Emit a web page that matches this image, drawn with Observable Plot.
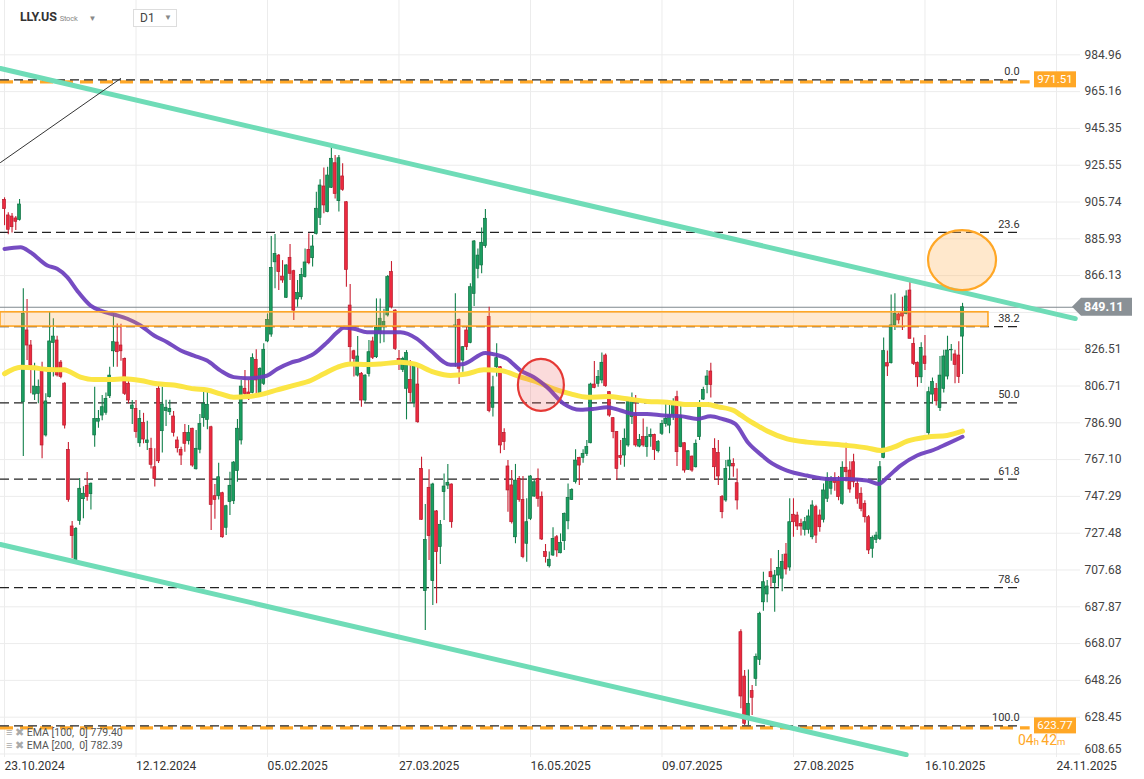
<!DOCTYPE html>
<html><head><meta charset="utf-8">
<script src="https://cdn.jsdelivr.net/npm/d3@7"></script>
<script src="https://cdn.jsdelivr.net/npm/@observablehq/plot@0.6"></script>
<style>
body{margin:0;background:#fff;font-family:Roboto,"Noto Sans",sans-serif;}
#wrap{position:relative;width:1144px;height:779px;overflow:hidden;background:#fff;}
#chart{position:absolute;left:0;top:0;}
.hdr{position:absolute;left:20px;top:9px;font-size:12.5px;font-weight:700;color:#333;letter-spacing:-0.2px;}
.hdr .st{font-size:7.5px;font-weight:400;color:#888;margin-left:3px;}
.hdr .tri{font-size:8px;color:#888;margin-left:11px;font-weight:400;}
.d1{position:absolute;left:133px;top:9px;width:42px;height:16px;border:1px solid #ddd;background:#fff;font-size:12px;color:#444;}
.d1 span{position:absolute;left:6px;top:1px;}
.d1 i{position:absolute;left:30px;top:3px;font-style:normal;font-size:8px;color:#888;}
.leg{position:absolute;left:6px;font-size:10.5px;color:#555;white-space:pre;}
.leg b{font-weight:400;color:#aaa;font-size:11px;}
</style></head><body>
<div id="wrap">
<div id="chart"></div>
<div class="hdr">LLY.US<span class="st">Stock</span><span class="tri">▼</span></div>
<div class="d1"><span>D1</span><i>▼</i></div>
<div class="leg" style="top:726px"><b>≡ ✖</b> EMA [100,  0] 779.40</div>
<div class="leg" style="top:739px"><b>≡ ✖</b> EMA [200,  0] 782.39</div>
</div>
<script>
// ---- candle data (bar index 0 = 23.10.2024) ----
const opens=[906.9,898.5,897.9,896.9,896.1,798.0,836.6,828.5,802.1,802.5,815.9,780.1,800.7,829.9,831.2,819.3,808.0,772.3,731.1,712.8,734.0,745.8,753.0,748.5,780.1,787.5,790.8,792.3,801.2,825.4,830.1,828.5,821.3,807.9,794.4,794.4,775.9,786.9,776.0,772.9,763.0,805.2,782.4,793.2,792.6,790.3,777.4,772.3,781.5,777.0,783.7,761.9,772.4,789.4,788.5,784.5,747.4,747.4,749.0,730.4,744.2,744.7,760.9,777.4,805.2,803.2,803.0,820.8,802.5,807.9,830.7,834.4,873.3,876.9,865.6,854.2,875.7,868.5,853.3,854.5,865.3,880.0,875.5,888.6,897.2,914.1,900.3,913.4,926.6,906.2,919.5,905.6,850.0,825.4,812.3,813.3,798.9,813.2,830.7,822.2,834.8,838.4,844.7,868.0,847.3,821.3,815.4,805.2,810.0,797.5,807.5,762.1,696.3,751.9,701.7,739.2,720.0,749.6,753.1,753.7,838.4,842.3,820.4,836.6,829.9,856.3,869.8,871.6,882.0,843.8,795.0,816.8,816.8,781.5,763.4,753.2,725.3,756.7,745.4,721.8,735.2,747.2,756.7,746.9,717.3,709.7,715.5,725.3,716.7,723.2,733.9,745.4,755.0,768.0,768.0,770.2,775.9,807.5,807.9,809.7,823.1,803.4,789.4,781.9,769.1,769.3,774.7,790.0,791.7,774.1,779.2,773.8,779.2,780.4,771.6,781.0,786.3,785.4,790.8,800.7,773.8,775.9,761.6,768.7,763.0,779.2,799.4,807.2,814.5,772.9,770.6,746.9,745.1,763.4,764.8,754.4,674.2,650.3,627.6,642.5,649.1,659.3,690.3,694.5,706.5,700.6,704.7,703.0,716.0,709.0,737.4,737.0,732.5,729.3,729.3,725.3,741.5,737.0,734.7,746.0,751.4,756.7,755.5,743.3,762.7,761.2,765.7,754.0,748.7,743.3,736.1,719.1,723.9,724.4,768.0,819.0,819.0,839.3,845.2,846.4,845.5,858.1,829.4,819.2,811.4,822.6,781.3,802.1,805.2,794.8,805.2,811.8,825.9,823.7,823.1,833.3];
const highs=[908.0,900.0,899.5,898.0,907.1,859.0,853.3,831.2,819.0,810.0,819.5,802.5,846.8,842.9,833.5,820.4,808.5,776.3,733.8,730.5,756.9,752.5,760.1,754.5,806.1,793.5,801.6,803.0,816.8,845.5,840.1,840.0,821.8,809.7,798.9,798.9,793.5,792.0,787.8,778.6,772.9,807.5,806.0,799.0,799.0,793.0,779.2,773.8,786.0,785.4,784.0,782.8,791.4,805.0,805.0,785.0,753.7,765.2,749.5,742.5,760.3,766.1,788.7,809.7,815.0,809.7,824.0,826.2,816.5,829.4,845.5,887.2,888.2,877.5,874.2,872.0,882.9,869.0,863.5,870.0,880.5,888.6,887.7,911.0,917.7,924.1,924.5,935.2,930.8,930.8,926.3,906.0,861.3,826.0,833.3,814.0,812.8,831.2,833.0,853.6,853.6,848.0,866.2,873.7,847.8,825.8,822.2,825.8,820.4,818.6,816.8,768.4,742.9,761.6,754.4,739.7,734.3,759.4,764.5,754.0,856.3,842.8,828.0,838.4,861.7,885.0,880.5,891.8,901.7,849.1,812.0,829.4,817.2,783.7,766.6,761.2,764.5,758.0,758.0,746.0,758.5,756.2,762.1,749.6,721.4,717.3,730.4,726.2,727.1,738.3,754.0,751.4,772.4,768.4,772.4,777.4,808.2,819.9,815.0,824.5,824.0,803.7,789.8,782.2,777.4,783.6,798.9,803.0,801.6,780.6,789.0,784.5,783.6,780.8,777.4,788.1,797.1,797.1,799.8,803.9,795.7,776.2,771.9,769.0,777.7,798.9,806.1,815.0,819.0,778.3,777.4,747.8,766.6,773.8,767.5,762.1,675.5,653.6,653.9,645.5,662.5,685.0,706.5,702.0,713.7,707.4,718.2,716.0,722.0,746.0,746.0,738.8,735.0,736.0,740.0,745.0,742.5,740.0,754.0,760.0,758.0,760.0,758.0,766.0,775.9,766.0,770.0,756.0,752.0,745.0,737.0,726.0,728.0,766.1,832.6,825.5,855.7,856.3,846.0,854.5,858.0,862.6,832.6,819.6,830.0,833.9,806.0,811.0,808.0,822.6,826.0,833.5,829.0,826.0,830.5,851.2];
const lows=[893.0,888.1,889.1,890.4,895.5,768.8,820.4,802.5,798.9,797.1,767.5,779.2,800.2,811.5,811.5,810.6,783.6,744.2,713.8,712.0,731.8,735.2,744.7,740.0,773.8,784.0,788.0,791.0,800.0,816.8,816.8,820.0,801.6,797.1,786.0,778.6,773.8,775.6,772.0,762.1,752.3,765.0,770.6,784.9,790.8,779.2,770.6,763.9,771.1,775.0,763.0,761.5,770.2,784.5,783.1,728.9,735.0,745.4,724.8,726.2,737.0,742.9,754.9,775.0,799.8,798.9,802.5,802.5,802.0,807.0,830.0,833.0,859.0,858.1,862.0,853.8,863.5,842.0,849.1,853.0,864.8,872.0,870.7,888.0,893.1,899.4,900.0,913.0,907.4,900.3,911.5,859.9,818.6,811.5,811.5,795.3,798.0,811.5,821.0,821.5,829.4,830.0,843.8,848.2,825.8,815.0,814.0,788.5,798.0,795.0,786.7,734.4,675.1,712.8,688.6,689.5,710.6,734.3,751.0,730.2,816.8,807.5,814.1,825.8,829.4,849.5,864.4,867.1,880.9,792.3,790.0,811.5,770.2,772.0,738.8,732.5,721.8,744.2,713.7,711.9,734.3,746.9,741.5,723.5,711.4,708.7,714.9,714.6,716.4,718.2,729.3,745.1,754.0,753.1,765.2,768.8,775.6,805.2,806.1,807.9,806.1,789.9,778.3,755.8,764.0,763.0,773.8,786.0,773.8,773.5,773.8,768.4,773.8,766.6,770.7,780.1,784.5,781.0,788.1,763.4,773.5,759.8,761.2,760.3,762.6,777.4,798.9,802.5,800.3,755.8,753.1,735.2,744.2,755.8,757.6,740.0,633.0,624.0,623.8,629.4,645.0,656.3,685.5,690.0,698.4,685.0,698.4,696.0,705.0,707.0,725.3,728.9,726.0,726.0,727.0,724.0,722.0,728.0,733.0,744.0,748.0,750.0,745.0,742.5,755.0,749.0,752.0,743.0,739.0,733.0,716.0,714.0,722.0,723.5,767.5,811.8,818.6,836.6,840.0,836.6,845.0,832.1,817.7,806.1,808.0,815.0,780.0,797.0,796.0,793.0,803.0,810.0,820.0,807.9,808.1,812.9];
const closes=[901.9,890.8,892.2,895.1,904.4,845.5,828.5,817.7,806.4,806.1,774.7,798.4,830.7,833.3,812.4,811.5,785.4,745.4,725.9,729.8,751.4,748.7,746.9,754.1,789.0,789.0,795.3,799.8,812.3,830.3,824.9,825.4,802.5,798.9,796.2,781.9,789.0,777.9,777.4,764.3,756.7,766.2,796.7,795.0,794.4,781.5,773.2,769.3,775.6,781.5,763.9,772.9,786.3,797.1,796.6,742.7,745.4,757.6,725.3,742.0,753.0,765.5,783.7,806.4,802.5,801.6,821.7,809.7,815.9,826.2,842.3,870.3,877.8,868.0,863.5,871.6,867.1,847.3,856.7,866.5,873.2,872.8,881.8,902.1,914.6,903.9,920.0,929.0,910.1,929.3,912.3,869.2,827.6,821.3,822.6,798.9,812.3,824.9,821.9,838.0,842.9,841.1,865.3,849.1,826.7,819.5,821.3,824.4,802.9,817.7,787.2,734.7,723.9,725.9,753.7,717.3,732.0,752.6,754.6,733.4,839.3,816.0,827.6,827.6,859.9,884.5,876.9,883.8,896.7,793.2,806.0,821.7,774.7,776.5,750.5,733.4,755.8,745.4,714.6,733.4,758.0,754.9,746.0,724.1,714.6,713.2,724.4,718.2,722.3,737.9,746.5,750.8,766.6,763.9,770.2,773.8,807.5,805.7,811.5,819.2,806.6,790.8,781.9,762.1,767.9,778.3,798.0,798.0,774.7,777.7,774.7,779.2,780.4,772.3,776.5,786.3,789.0,790.8,798.0,771.1,790.5,761.2,771.6,761.2,775.6,795.8,804.6,811.8,807.3,763.0,758.0,738.8,762.1,766.6,763.4,745.1,639.6,624.9,635.6,638.9,660.8,684.1,701.1,698.8,703.8,704.7,708.8,712.0,708.0,733.4,733.4,731.1,731.1,733.4,736.5,742.4,726.2,730.7,750.5,757.1,755.0,754.6,746.9,762.7,760.3,751.0,754.9,746.0,740.6,736.1,718.2,725.0,726.2,763.0,825.5,817.2,839.3,845.5,842.0,844.1,854.9,832.1,818.6,811.4,827.2,818.6,803.4,808.8,798.5,812.3,822.6,825.8,826.2,818.1,811.5,849.1];

// ---- moving averages: [bar index, value] ----
const ema100=[[0,880.5],[4.3,881.4],[6.9,878.7],[11.4,871.6],[14,869.8],[16.7,865.3],[19.3,858.1],[22.9,850.0],[25.6,847.3],[29.1,845.2],[32.7,842.9],[36.2,839.3],[39.8,833.9],[43.3,830.3],[46.9,825.8],[50.4,823.1],[53.9,820.4],[57.5,815.0],[61,811.5],[64.6,810.9],[68.1,811.5],[69.9,812.3],[72.6,815.9],[76.1,819.2],[78.8,820.8],[82.3,824.0],[85.9,830.3],[88.6,835.7],[90.3,838.0],[93,837.5],[96.5,835.7],[100.1,835.7],[105.4,835.7],[109.8,832.1],[113.4,825.8],[118.7,818.1],[122.3,818.6],[128,824.5],[130.7,823.6],[133.8,821.3],[137.4,815.0],[140.9,811.5],[144.4,806.1],[148.9,797.1],[153.3,793.9],[156.9,794.4],[160.4,795.3],[164,793.5],[167.5,791.7],[171,791.7],[175.5,790.8],[180,790.5],[184.4,789.0],[187.9,790.4],[191,789.0],[194.5,786.3],[198,776.0],[201.5,769.5],[203.5,766.2],[208.3,761.2],[213.6,758.5],[219,756.7],[224.3,756.7],[229.6,755.8],[232.7,754.0],[235,757.6],[238.5,763.9],[242.9,769.3],[247.4,772.4],[250.9,775.6],[255,779.4]];
const ema200=[[0,813.3],[4.3,816.8],[7.8,816.5],[11.4,815.6],[15.8,815.4],[20.2,811.5],[23.8,810.2],[28.2,810.2],[31.8,810.6],[36.2,809.7],[40.6,807.9],[45,807.3],[50.4,805.2],[53.9,804.6],[57.5,802.5],[61,800.7],[64.6,801.0],[69,802.5],[72.6,804.6],[77,807.0],[81.5,809.7],[85,813.3],[88.6,816.8],[92.1,818.6],[96.5,818.3],[100.1,818.6],[105.4,819.5],[109,818.6],[114.3,814.2],[118.7,812.4],[123.2,813.3],[127.6,815.4],[132,815.0],[137.4,811.5],[141.8,808.8],[146.2,805.2],[150.7,802.5],[155.1,800.7],[160.4,801.0],[165.7,799.8],[171.1,798.4],[176.4,798.0],[181.7,796.7],[187,796.7],[190,795.5],[194.1,793.5],[196,791.0],[198.6,787.5],[201.2,784.5],[203,782.5],[208.3,778.3],[213.6,776.5],[219,775.6],[224.3,774.7],[229.6,773.4],[233.2,772.0],[236.7,773.8],[240.3,777.0],[245.6,779.2],[250.9,780.1],[255,782.4]];

// ---- axes ----
const tickIdx=[0,35,70,105,140,175,210,245,280];
const tickLabels=["23.10.2024","12.12.2024","05.02.2025","27.03.2025","16.05.2025","09.07.2025","27.08.2025","16.10.2025","24.11.2025"];
const priceTicks=[984.96,965.16,945.35,925.55,905.74,885.93,866.13,846.32,826.51,806.71,786.90,767.10,747.29,727.48,707.68,687.87,668.07,648.26,628.45,608.65];

// ---- drawings ----
const fibNames=["0.0","23.6","38.2","50.0","61.8","78.6","100.0"];
const fibPrices=[971.51,889.44,838.68,797.64,756.61,698.19,623.77];
const fibEnd=270.2;
const extremes=[971.51,623.77];
const extremesEnd=273.0;
const lastPrice=849.11;
const upperChannel=[[-1.07,977.6],[285.0,843.0]];
const lowerChannel=[[-1.07,721.4],[240,608.3]];
const thinLine=[[-1.07,927.0],[30.9,972.2]];
const zone={i1:-1.07,i2:261.9,lo:838.7,hi:846.4};
const orangeMark={i:255.0,p:874.2};
const redMark={i:142.9,p:807.0};

const xDomain=[-1.07,286.4];
const yDomain=[606.76,1014.2];

const candles=opens.map((o,i)=>({i,o,h:highs[i],l:lows[i],c:closes[i]}));
const ups=candles.filter(d=>d.c>=d.o), downs=candles.filter(d=>d.c<d.o);
const G={fill:"#1a9e60",stroke:"#0e6f41",wick:"#13814c"};
const R={fill:"#ec2a3f",stroke:"#b51a2c",wick:"#c91f31"};
const ORANGE="#ffa726";

function ellipseMark(pt, rx, ry, fill, stroke){
  return (index, scales) => {
    const e=document.createElementNS("http://www.w3.org/2000/svg","ellipse");
    e.setAttribute("cx",scales.x(pt.i)); e.setAttribute("cy",scales.y(pt.p));
    e.setAttribute("rx",rx); e.setAttribute("ry",ry);
    e.setAttribute("fill",fill); e.setAttribute("stroke",stroke); e.setAttribute("stroke-width",2.2);
    return e;
  };
}
function tagMarks(index, scales){
  const g=d3.create("svg:g").attr("font-family","Roboto, sans-serif").attr("text-anchor","start");
  const yl=scales.y(extremes[1]);
  const t=g.append("text").attr("x",1018).attr("y",yl+19.5).attr("fill",ORANGE).attr("font-size",14).attr("text-anchor","start");
  t.append("tspan").text("04"); t.append("tspan").attr("font-size",9.5).text("h ");
  t.append("tspan").text("42"); t.append("tspan").attr("font-size",9.5).text("m");
  for(const p of extremes){
    const y=scales.y(p);
    g.append("rect").attr("x",1034).attr("y",y-8).attr("width",42).attr("height",16).attr("fill",ORANGE);
    g.append("text").attr("x",1055).attr("y",y+4).attr("text-anchor","middle").attr("fill","#fff").attr("font-size",11.5).text(p.toFixed(2));
  }
  const y=scales.y(lastPrice);
  g.append("path").attr("d",`M1072,${y}L1081,${y-9}H1132V${y+9}H1081Z`).attr("fill","#8a9196");
  g.append("text").attr("x",1084).attr("y",y+4.5).attr("text-anchor","start").attr("fill","#fff").attr("font-size",12.5).attr("font-weight",700).text(lastPrice.toFixed(2));
  return g.node();
}

const plot=Plot.plot({
  width:1144, height:779,
  marginLeft:0, marginRight:64, marginTop:0, marginBottom:22,
  style:{fontFamily:"Roboto, sans-serif", fontSize:"12px", background:"#fff", overflow:"visible"},
  x:{type:"linear", domain:xDomain, axis:null},
  y:{type:"linear", domain:yDomain, axis:null},
  marks:[
    Plot.gridY(priceTicks,{stroke:"#ececec",strokeOpacity:1}),
    Plot.gridX(tickIdx,{stroke:"#ececec",strokeOpacity:1}),
    Plot.ruleY(extremes,{x1:xDomain[0],x2:extremesEnd,stroke:ORANGE,strokeWidth:3.2,strokeDasharray:"13,7",dy:2}),
    Plot.ruleY(fibPrices,{x1:xDomain[0],x2:fibEnd,stroke:"#222",strokeWidth:1.3,strokeDasharray:"9,5"}),
    Plot.text(fibPrices,{x:fibEnd,y:d=>d,text:(d,i)=>fibNames[i],textAnchor:"end",dy:-8,fontSize:11,fill:"#333"}),
    Plot.ruleY([lastPrice],{stroke:"#7f888e",strokeWidth:1.2}),
    Plot.ruleX(ups,{x:"i",y1:"l",y2:"h",stroke:G.wick,strokeWidth:1.1}),
    Plot.ruleX(downs,{x:"i",y1:"l",y2:"h",stroke:R.wick,strokeWidth:1.1}),
    Plot.rect(ups,{x1:d=>d.i-0.38,x2:d=>d.i+0.38,y1:"o",y2:"c",fill:G.fill,stroke:G.stroke,strokeWidth:0.7}),
    Plot.rect(downs,{x1:d=>d.i-0.38,x2:d=>d.i+0.38,y1:"o",y2:"c",fill:R.fill,stroke:R.stroke,strokeWidth:0.7}),
    Plot.line(ema200,{x:d=>d[0],y:d=>d[1],stroke:"#fbe544",strokeWidth:5,curve:"monotone-x"}),
    Plot.line(ema100,{x:d=>d[0],y:d=>d[1],stroke:"#6a3dbd",strokeWidth:4,strokeOpacity:0.92,curve:"monotone-x"}),
    Plot.line(upperChannel,{x:d=>d[0],y:d=>d[1],stroke:"#6fdcb7",strokeWidth:5,clip:true}),
    Plot.line(lowerChannel,{x:d=>d[0],y:d=>d[1],stroke:"#6fdcb7",strokeWidth:5,clip:true}),
    Plot.line(thinLine,{x:d=>d[0],y:d=>d[1],stroke:"#333",strokeWidth:1}),
    Plot.rect([zone],{x1:"i1",x2:"i2",y1:"lo",y2:"hi",fill:"#ffa53c",fillOpacity:0.24,stroke:ORANGE,strokeWidth:1.6}),
    ellipseMark(redMark,23,26,"rgba(236,90,90,0.22)","#e53935"),
    ellipseMark(orangeMark,34,30,"rgba(255,190,110,0.35)",ORANGE),
    Plot.axisX(tickIdx,{anchor:"bottom",tickSize:0,tickPadding:4,textAnchor:"start",tickFormat:d=>tickLabels[tickIdx.indexOf(d)],fontSize:12,fill:"#333",label:null}),
    Plot.axisY(priceTicks.filter(v=>v!==846.32&&v!==608.65),{anchor:"right",tickSize:0,tickPadding:4,tickFormat:d=>d.toFixed(2),fontSize:12,fill:"#444",label:null}),
    Plot.axisY([608.65],{anchor:"right",tickSize:0,tickPadding:4,tickFormat:d=>d.toFixed(2),fontSize:12,fill:"#444",label:null,dy:-5}),
    tagMarks
  ]
});
document.getElementById("chart").appendChild(plot);
</script>
</body></html>
